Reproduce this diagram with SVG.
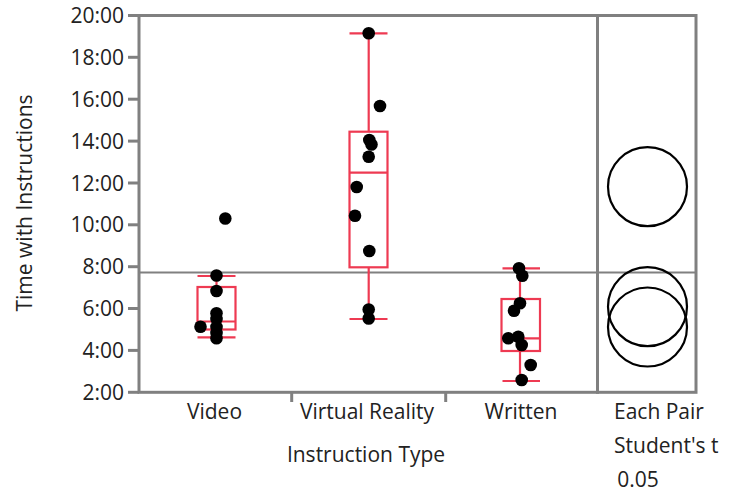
<svg xmlns="http://www.w3.org/2000/svg" width="739" height="493" viewBox="0 0 739 493">
  <style>
    text { font-family: "Open Sans", "Noto Sans", "Liberation Sans", sans-serif; font-size: 21px; fill: #222; }
    .tick { text-anchor: end; }
    .cat { text-anchor: middle; }
    .frame { fill: none; stroke: #808080; stroke-width: 3; }
    .axis { stroke: #808080; stroke-width: 3; fill: none; }
    .mean { stroke: #808080; stroke-width: 2; }
    .box { fill: none; stroke: #ee3a52; stroke-width: 2.2; }
    .pt { fill: #000; }
    .cmp { fill: none; stroke: #000; stroke-width: 2.2; }
  </style>
  <rect width="739" height="493" fill="#fff"/>

  <!-- y axis -->
  <g id="y-axis">
    <g class="axis">
      <line x1="128" y1="15.5" x2="139" y2="15.5"/>
      <line x1="128" y1="57.3" x2="139" y2="57.3"/>
      <line x1="128" y1="99.2" x2="139" y2="99.2"/>
      <line x1="128" y1="141.1" x2="139" y2="141.1"/>
      <line x1="128" y1="183" x2="139" y2="183"/>
      <line x1="128" y1="224.8" x2="139" y2="224.8"/>
      <line x1="128" y1="266.7" x2="139" y2="266.7"/>
      <line x1="128" y1="308.5" x2="139" y2="308.5"/>
      <line x1="128" y1="350.4" x2="139" y2="350.4"/>
      <line x1="128" y1="392.3" x2="139" y2="392.3"/>
    </g>
    <text class="tick" x="124" y="23">20:00</text>
    <text class="tick" x="124" y="64.8">18:00</text>
    <text class="tick" x="124" y="106.7">16:00</text>
    <text class="tick" x="124" y="148.6">14:00</text>
    <text class="tick" x="124" y="190.5">12:00</text>
    <text class="tick" x="124" y="232.3">10:00</text>
    <text class="tick" x="124" y="274.2">8:00</text>
    <text class="tick" x="124" y="316">6:00</text>
    <text class="tick" x="124" y="357.9">4:00</text>
    <text class="tick" x="124" y="399.8">2:00</text>
    <text class="cat" transform="translate(31.5 203) rotate(-90)">Time with Instructions</text>
  </g>

  <!-- plot frames and grand mean line -->
  <g id="frame">
    <rect class="frame" x="139" y="15.5" width="458.5" height="376.8"/>
    <rect class="frame" x="597.5" y="15.5" width="98.5" height="376.8"/>
    <line class="mean" x1="139" y1="272.5" x2="696" y2="272.5"/>
    <line class="axis" x1="291.7" y1="392.3" x2="291.7" y2="402"/>
    <line class="axis" x1="445.7" y1="392.3" x2="445.7" y2="402"/>
  </g>

  <!-- Video -->
  <g id="video">
    <g class="box">
      <rect x="197.5" y="287" width="38" height="42.5"/>
      <line x1="197.5" y1="321.5" x2="235.5" y2="321.5"/>
      <line x1="216.5" y1="276" x2="216.5" y2="287"/>
      <line x1="216.5" y1="329.5" x2="216.5" y2="337.3"/>
      <line x1="197.5" y1="276" x2="235.5" y2="276"/>
      <line x1="197.5" y1="337.3" x2="235.5" y2="337.3"/>
    </g>
    <g class="pt">
      <circle cx="225.3" cy="218.5" r="6.3"/>
      <circle cx="216.5" cy="275.5" r="6.3"/>
      <circle cx="216.5" cy="291" r="6.3"/>
      <circle cx="216.5" cy="313.3" r="6.3"/>
      <circle cx="216.5" cy="319" r="6.3"/>
      <circle cx="200.5" cy="326.7" r="6.3"/>
      <circle cx="216.5" cy="327" r="6.3"/>
      <circle cx="216.5" cy="333" r="6.3"/>
      <circle cx="216.5" cy="338.3" r="6.3"/>
    </g>
  </g>

  <!-- Virtual Reality -->
  <g id="virtual-reality">
    <g class="box">
      <rect x="349.5" y="131.7" width="38" height="135.6"/>
      <line x1="349.5" y1="172.7" x2="387.5" y2="172.7"/>
      <line x1="368.7" y1="33.3" x2="368.7" y2="131.7"/>
      <line x1="368.7" y1="267.3" x2="368.7" y2="319"/>
      <line x1="349.5" y1="33.3" x2="387.5" y2="33.3"/>
      <line x1="349.5" y1="319" x2="387.5" y2="319"/>
    </g>
    <g class="pt">
      <circle cx="368.7" cy="33.3" r="6.3"/>
      <circle cx="380" cy="106" r="6.3"/>
      <circle cx="369.3" cy="140" r="6.3"/>
      <circle cx="371.5" cy="144.5" r="6.3"/>
      <circle cx="368.7" cy="156.7" r="6.3"/>
      <circle cx="356.7" cy="187" r="6.3"/>
      <circle cx="355" cy="215.7" r="6.3"/>
      <circle cx="369.3" cy="251" r="6.3"/>
      <circle cx="368.7" cy="309.5" r="6.3"/>
      <circle cx="368.7" cy="318.5" r="6.3"/>
    </g>
  </g>

  <!-- Written -->
  <g id="written">
    <g class="box">
      <rect x="501.5" y="299" width="38.5" height="52"/>
      <line x1="501.5" y1="338.3" x2="540" y2="338.3"/>
      <line x1="520" y1="268.3" x2="520" y2="299"/>
      <line x1="520" y1="351" x2="520" y2="381"/>
      <line x1="502.5" y1="268.3" x2="540" y2="268.3"/>
      <line x1="502.5" y1="381" x2="540" y2="381"/>
    </g>
    <g class="pt">
      <circle cx="519" cy="268.3" r="6.3"/>
      <circle cx="522.3" cy="275.7" r="6.3"/>
      <circle cx="520" cy="303.3" r="6.3"/>
      <circle cx="514" cy="310.7" r="6.3"/>
      <circle cx="508.3" cy="338.3" r="6.3"/>
      <circle cx="518.3" cy="336.7" r="6.3"/>
      <circle cx="521.7" cy="345" r="6.3"/>
      <circle cx="530.7" cy="365" r="6.3"/>
      <circle cx="521.7" cy="380" r="6.3"/>
    </g>
  </g>

  <!-- comparison circles -->
  <g id="comparison-circles" class="cmp">
    <circle cx="647.5" cy="186.7" r="39.5"/>
    <circle cx="647.5" cy="306.7" r="39.5"/>
    <circle cx="647.5" cy="327" r="39.5"/>
  </g>

  <!-- x axis labels -->
  <g id="x-axis">
    <text class="cat" x="214.5" y="419">Video</text>
    <text class="cat" x="367" y="419">Virtual Reality</text>
    <text class="cat" x="521" y="419">Written</text>
    <text class="cat" x="366" y="462">Instruction Type</text>
  </g>

  <g id="legend">
    <text x="614" y="419.3">Each Pair</text>
    <text x="614" y="452.7">Student's t</text>
    <text x="617.3" y="486.7">0.05</text>
  </g>
</svg>
